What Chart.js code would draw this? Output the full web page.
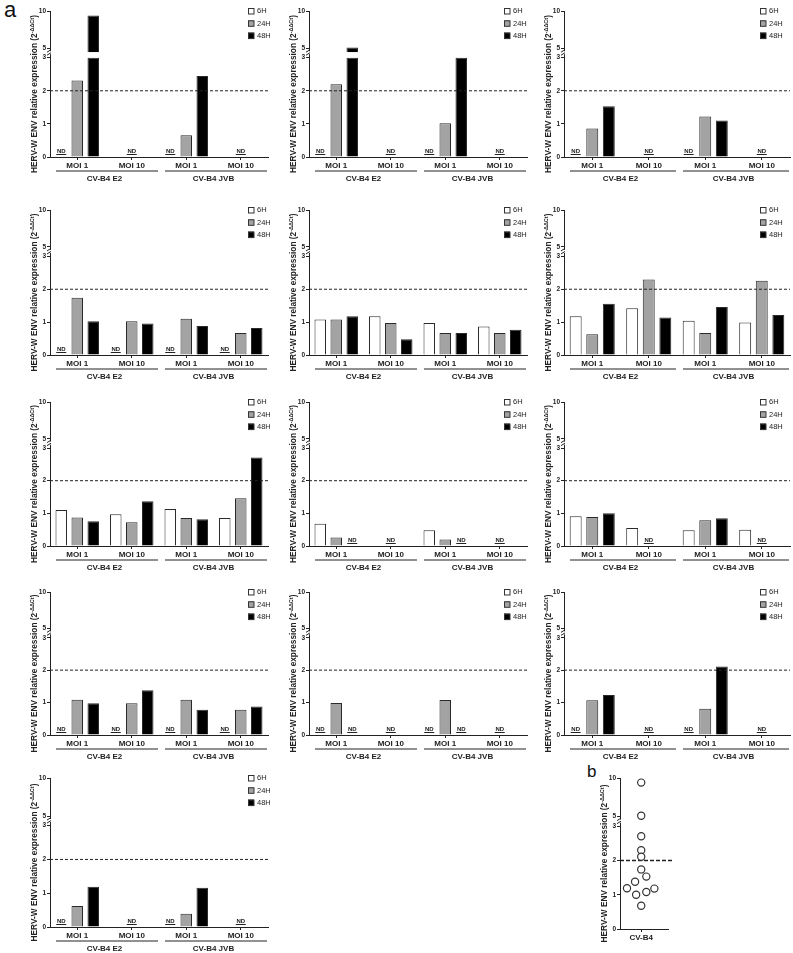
<!DOCTYPE html>
<html>
<head>
<meta charset="utf-8">
<title>HERV-W ENV expression after CV-B4 infection</title>
<script src="https://cdn.jsdelivr.net/npm/chart.js@4.4.2/dist/chart.umd.min.js"></script>
<style>
  html, body { margin: 0; padding: 0; overflow: hidden; background: #fff; }
  body { font-family: "Liberation Sans", Arial, sans-serif; }
  #fig { position: relative; width: 793px; height: 953px; }
  #fig canvas { position: absolute; }
  .tag { position: absolute; color: #111; }
</style>
</head>
<body>
<div id="fig">
  <div class="tag" style="left:4px; top:-1px; font-size:22px; line-height:22px;">a</div>
  <div class="tag" style="left:587px; top:763px; font-size:17px; line-height:17px;">b</div>
</div>
<script>
// ---- data ----
const categories = ['MOI 1', 'MOI 10', 'MOI 1', 'MOI 10'];
const groups = ['CV-B4 E2', 'CV-B4 JVB'];
const timepoints = ['6H', '24H', '48H'];
const lowerTicks = [0, 1, 2, 3];
const upperTicks = [5, 10];
const threshold = 2;

// per panel: [6H, 24H, 48H], one value per category. 'ND' = not detected, null = nothing shown
const p1  = [['ND', null, 'ND', null], [2.31, 'ND', 0.66, 'ND'], [9.4, null, 2.45, null]];
const p2  = [['ND', null, 'ND', null], [2.20, 'ND', 1.02, 'ND'], [5.1, null, 3.0, null]];
const p3  = [['ND', null, 'ND', null], [0.86, 'ND', 1.22, 'ND'], [1.53, null, 1.10, null]];
const p4  = [['ND', 'ND', 'ND', 'ND'], [1.74, 1.03, 1.10, 0.67], [1.03, 0.96, 0.88, 0.82]];
const p5  = [[1.08, 1.18, 0.97, 0.87], [1.08, 0.97, 0.67, 0.67], [1.18, 0.48, 0.67, 0.77]];
const p6  = [[1.18, 1.42, 1.04, 0.99], [0.63, 2.30, 0.67, 2.26], [1.56, 1.14, 1.46, 1.22]];
const p7  = [[1.10, 0.97, 1.13, 0.86], [0.87, 0.73, 0.86, 1.46], [0.76, 1.37, 0.82, 2.71]];
const p8  = [[0.68, null, 0.48, null], [0.26, 'ND', 0.20, 'ND'], ['ND', null, 'ND', null]];
const p9  = [[0.91, 0.55, 0.48, 0.50], [0.89, 'ND', 0.79, 'ND'], [1.00, null, 0.85, null]];
const p10 = [['ND', 'ND', 'ND', 'ND'], [1.09, 0.98, 1.09, 0.78], [0.98, 1.38, 0.78, 0.88]];
const p11 = [['ND', null, 'ND', null], [0.99, 'ND', 1.08, 'ND'], ['ND', null, 'ND', null]];
const p12 = [['ND', null, 'ND', null], [1.07, 'ND', 0.81, 'ND'], [1.23, null, 2.11, null]];
const p13 = [['ND', null, 'ND', null], [0.62, 'ND', 0.39, 'ND'], [1.19, null, 1.16, null]];
const panels = [p1, p2, p3, p4, p5, p6, p7, p8, p9, p10, p11, p12, p13];

// panel b: one point per condition, with horizontal spread of the dot plot
const bLabels = ['CV-B4'];
const bValues = [9.4, 5.1, 2.71, 2.30, 2.11, 1.74, 1.53, 1.38, 1.19, 1.18, 1.08, 1.00, 0.68];
const bSpread = [0, 0, 0, 0, 0, 0, 0.24, -0.29, -0.67, 0.62, 0.24, -0.24, 0];

// ---- look ----
const INK = '#222';
const FONT = '"Liberation Sans", Arial, sans-serif';
const fills = ['#ffffff', '#a3a3a3', '#000000'];
const colLeft = [0, 259, 514];
const colWidth = [270, 270, 278];
const colLegend = [20, 23, 30];
const rowTop = [11, 210, 402, 592, 778];
const rowBase = [157, 355, 546, 735, 927];
const PAD_TOP = 8;
const Y_AXIS_W = 50;
const LOWER_MAX = 3.15, BREAK_LO = 3;
const UPPER_MIN = 4.4, UPPER_BASE = 4.45, UPPER_MAX = 10;

Chart.defaults.font.family = FONT;
Chart.defaults.color = INK;

function brokenYScales() {
  const common = {
    position: 'left', stack: 'yaxis',
    grid: { drawOnChartArea: false, tickLength: 3, color: INK, lineWidth: 1 },
    border: { color: INK, width: 1 },
    ticks: { font: { size: 6.5, weight: 'bold' }, color: INK, padding: 1 },
    afterFit: s => { s.width = Y_AXIS_W; }
  };
  return {
    y: Object.assign({}, common, { min: 0, max: LOWER_MAX, stackWeight: 2.5,
      afterBuildTicks: s => { s.ticks = lowerTicks.map(v => ({ value: v })); } }),
    yU: Object.assign({}, common, { min: UPPER_MIN, max: UPPER_MAX, stackWeight: 1,
      afterBuildTicks: s => { s.ticks = upperTicks.map(v => ({ value: v })); } })
  };
}

function drawYTitle(chart) {
  const { ctx, chartArea } = chart;
  const main = 'HERV-W ENV relative expression (2';
  const sup = '-ΔΔCt';
  const end = ')';
  const f1 = 'bold 8.3px ' + FONT, f2 = 'bold 5.5px ' + FONT;
  ctx.save();
  ctx.translate(chartArea.left - 15, (chartArea.top + chartArea.bottom) / 2 + 10);
  ctx.rotate(-Math.PI / 2);
  ctx.font = f1;
  const w1 = ctx.measureText(main).width, w3 = ctx.measureText(end).width;
  ctx.font = f2;
  const w2 = ctx.measureText(sup).width;
  let x0 = -(w1 + w2 + w3) / 2;
  ctx.fillStyle = INK; ctx.textBaseline = 'middle'; ctx.textAlign = 'left';
  ctx.font = f1; ctx.fillText(main, x0, 0); x0 += w1;
  ctx.font = f2; ctx.fillText(sup, x0, -2.8); x0 += w2;
  ctx.font = f1; ctx.fillText(end, x0, 0);
  ctx.restore();
}

function drawBreak(chart) {
  const { ctx } = chart;
  const yU = chart.scales.yU;
  const x = yU.right, y = yU.bottom;
  ctx.save();
  ctx.fillStyle = '#fff';
  ctx.fillRect(x - 2, y - 1.5, 4, 3);
  ctx.strokeStyle = INK; ctx.lineWidth = 1;
  ctx.beginPath();
  ctx.moveTo(x - 3, y - 0.5); ctx.lineTo(x + 1, y - 3);
  ctx.moveTo(x - 3, y + 2.5); ctx.lineTo(x + 1, y);
  ctx.stroke();
  ctx.restore();
}

function drawThreshold(chart, lineWidth, dash, extra) {
  const { ctx, chartArea } = chart;
  const y = chart.scales.y.getPixelForValue(threshold);
  ctx.save();
  ctx.strokeStyle = INK; ctx.lineWidth = lineWidth; ctx.setLineDash(dash);
  ctx.beginPath();
  ctx.moveTo(chartArea.left, y); ctx.lineTo(chartArea.right + extra, y);
  ctx.stroke();
  ctx.restore();
}

function makeBarPanel(series, idx) {
  const col = idx % 3, row = Math.floor(idx / 3);
  const top = rowTop[row] - PAD_TOP;
  const height = rowBase[row] - top + 26;
  const canvas = document.createElement('canvas');
  canvas.width = colWidth[col]; canvas.height = height;
  canvas.style.left = colLeft[col] + 'px'; canvas.style.top = top + 'px';
  document.getElementById('fig').appendChild(canvas);

  const datasets = [];
  series.forEach((vals, k) => {
    const nums = vals.map(v => typeof v === 'number' ? v : null);
    const bar = { backgroundColor: fills[k], borderColor: '#2a2a2a', borderWidth: 1, stack: timepoints[k] };
    datasets.push(Object.assign({ label: timepoints[k], yAxisID: 'y',
      data: nums.map(v => v === null ? null : Math.min(v, BREAK_LO)) }, bar));
    datasets.push(Object.assign({ label: timepoints[k] + ' ', yAxisID: 'yU', base: UPPER_BASE,
      data: nums.map(v => v !== null && v > UPPER_BASE ? v : null) }, bar));
  });

  const decor = {
    id: 'decor',
    afterDatasetsDraw(chart) {
      const { ctx } = chart;
      drawThreshold(chart, 1, [3, 2], 0);
      // ND marks
      const y0 = chart.scales.y.getPixelForValue(0);
      ctx.save();
      ctx.fillStyle = INK; ctx.strokeStyle = INK; ctx.lineWidth = 1;
      ctx.font = 'bold 6px ' + FONT; ctx.textAlign = 'center'; ctx.textBaseline = 'alphabetic';
      series.forEach((vals, k) => {
        const meta = chart.getDatasetMeta(2 * k);
        vals.forEach((v, i) => {
          if (v !== 'ND') return;
          const x = meta.data[i].x;
          ctx.fillText('ND', x, y0 - 4.5);
          ctx.beginPath(); ctx.moveTo(x - 5, y0 - 2.5); ctx.lineTo(x + 5, y0 - 2.5); ctx.stroke();
        });
      });
      ctx.restore();
    },
    afterDraw(chart) {
      const { ctx, chartArea } = chart;
      drawYTitle(chart);
      drawBreak(chart);
      // group underlines
      const xs = chart.scales.x, xg = chart.scales.xg;
      const half = (xs.getPixelForValue(1) - xs.getPixelForValue(0)) / 2;
      ctx.save();
      ctx.strokeStyle = INK; ctx.lineWidth = 1;
      groups.forEach((g, gi) => {
        ctx.beginPath();
        ctx.moveTo(xs.getPixelForValue(2 * gi) - half + 6, xg.top + 2);
        ctx.lineTo(xs.getPixelForValue(2 * gi + 1) + half - 1, xg.top + 2);
        ctx.stroke();
      });
      // legend
      const lx = chartArea.right - colLegend[col];
      ctx.font = '7.5px ' + FONT; ctx.textBaseline = 'middle'; ctx.textAlign = 'left';
      timepoints.forEach((t, k) => {
        const ly = chartArea.top - 3 + k * 12.3;
        ctx.fillStyle = fills[k]; ctx.fillRect(lx, ly, 6, 6);
        ctx.strokeStyle = '#333'; ctx.strokeRect(lx + 0.5, ly + 0.5, 5.5, 5.5);
        ctx.fillStyle = INK; ctx.fillText(t, lx + 9, ly + 3.3);
      });
      ctx.restore();
    }
  };

  new Chart(canvas.getContext('2d'), {
    type: 'bar',
    data: { labels: categories, datasets },
    options: {
      responsive: false, animation: false,
      categoryPercentage: 0.88, barPercentage: 0.72,
      layout: { padding: { top: PAD_TOP, right: 2, bottom: 0, left: 0 } },
      plugins: { legend: { display: false }, tooltip: { enabled: false } },
      scales: {
        x: {
          type: 'category', labels: categories, offset: true,
          grid: { offset: false, drawOnChartArea: false, tickLength: 3, color: INK },
          border: { color: INK, width: 1 },
          ticks: { font: { size: 8, weight: 'bold' }, color: INK, padding: 1, maxRotation: 0, autoSkip: false },
          afterFit: s => { s.height = 12; }
        },
        xg: {
          type: 'category', labels: groups, position: 'bottom', offset: true,
          grid: { display: false, drawTicks: false }, border: { display: false },
          ticks: { font: { size: 8, weight: 'bold' }, color: INK, padding: 5, maxRotation: 0 },
          afterFit: s => { s.height = 14; }
        },
        ...brokenYScales()
      }
    },
    plugins: [decor]
  });
}

panels.forEach(makeBarPanel);

// ---- panel b ----
(function () {
  const top = rowTop[4] - PAD_TOP;
  const canvas = document.createElement('canvas');
  canvas.width = 104; canvas.height = rowBase[4] - top + 16;
  canvas.style.left = '570px'; canvas.style.top = top + 'px';
  document.getElementById('fig').appendChild(canvas);

  const pts = bValues.map((v, i) => ({ x: bSpread[i], y: v }));
  const point = { pointRadius: 3.6, pointBackgroundColor: '#fff', pointBorderColor: '#333', pointBorderWidth: 1.2 };

  const decor = {
    id: 'decorB',
    beforeDatasetsDraw(chart) { drawThreshold(chart, 1.6, [4, 2], 4); },
    afterDraw(chart) { drawYTitle(chart); drawBreak(chart); }
  };

  new Chart(canvas.getContext('2d'), {
    type: 'scatter',
    data: {
      datasets: [
        Object.assign({ label: bLabels[0], yAxisID: 'y', data: pts.filter(p => p.y <= BREAK_LO) }, point),
        Object.assign({ label: bLabels[0] + ' ', yAxisID: 'yU', data: pts.filter(p => p.y > BREAK_LO) }, point)
      ]
    },
    options: {
      responsive: false, animation: false,
      layout: { padding: { top: PAD_TOP, right: 2, bottom: 0, left: 0 } },
      plugins: { legend: { display: false }, tooltip: { enabled: false } },
      scales: {
        x: {
          type: 'linear', min: -1, max: 1.3,
          grid: { drawOnChartArea: false, tickLength: 3, color: INK },
          border: { color: INK, width: 1 },
          afterBuildTicks: s => { s.ticks = [{ value: 0 }]; },
          ticks: { font: { size: 8, weight: 'bold' }, color: INK, padding: 1, callback: () => bLabels[0] },
          afterFit: s => { s.height = 14; }
        },
        ...brokenYScales()
      }
    },
    plugins: [decor]
  });
})();
</script>
</body>
</html>
